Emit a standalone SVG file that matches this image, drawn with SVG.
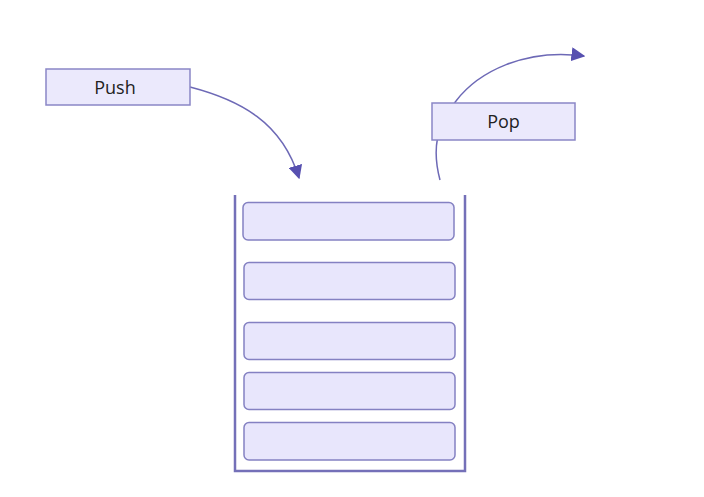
<svg xmlns="http://www.w3.org/2000/svg" width="704" height="497" viewBox="0 0 704 497">
<style>
.lbl{fill:#ebe9fc;stroke:#8a86c6;stroke-width:1.5}
.slot{fill:#e8e6fc;stroke:#8481c2;stroke-width:1.5}
.txt{font-family:"Open Sans","Noto Sans",sans-serif;font-size:18px;fill:#222;text-anchor:middle}
.con{fill:none;stroke:#6d69b6;stroke-width:1.5}
</style>
<defs>
<marker id="ah" viewBox="0 0 10 10" refX="9" refY="5" markerWidth="14" markerHeight="14" markerUnits="userSpaceOnUse" orient="auto">
<path d="M0,0 L10,5 L0,10 Z" fill="#5750b0"/>
</marker>
</defs>
<rect width="704" height="497" fill="#fff"/>
<g id="connectors">
<path class="con" d="M190,87 C240,100 282,122 299,178" marker-end="url(#ah)"/>
<path class="con" d="M440,180 C432,150 436,125 456,101 C478,72 525,48 584,56" marker-end="url(#ah)"/>
</g>
<g id="stack">
<path d="M235,195 V471 H465 V195" fill="none" stroke="#7470b8" stroke-width="2.5"/>
</g>
<g id="item1"><rect class="slot" x="243" y="202.5" width="211" height="37.5" rx="5"/></g>
<g id="item2"><rect class="slot" x="244" y="262.5" width="211" height="37" rx="5"/></g>
<g id="item3"><rect class="slot" x="244" y="322.5" width="211" height="37" rx="5"/></g>
<g id="item4"><rect class="slot" x="244" y="372.5" width="211" height="37" rx="5"/></g>
<g id="item5"><rect class="slot" x="244" y="422.5" width="211" height="37.5" rx="5"/></g>
<g id="push">
<rect class="lbl" x="46" y="69" width="144" height="36"/>
<text class="txt" x="115" y="93.5">Push</text>
</g>
<g id="pop">
<rect class="lbl" x="432" y="103" width="143" height="37"/>
<text class="txt" x="503.5" y="128">Pop</text>
</g>
</svg>
